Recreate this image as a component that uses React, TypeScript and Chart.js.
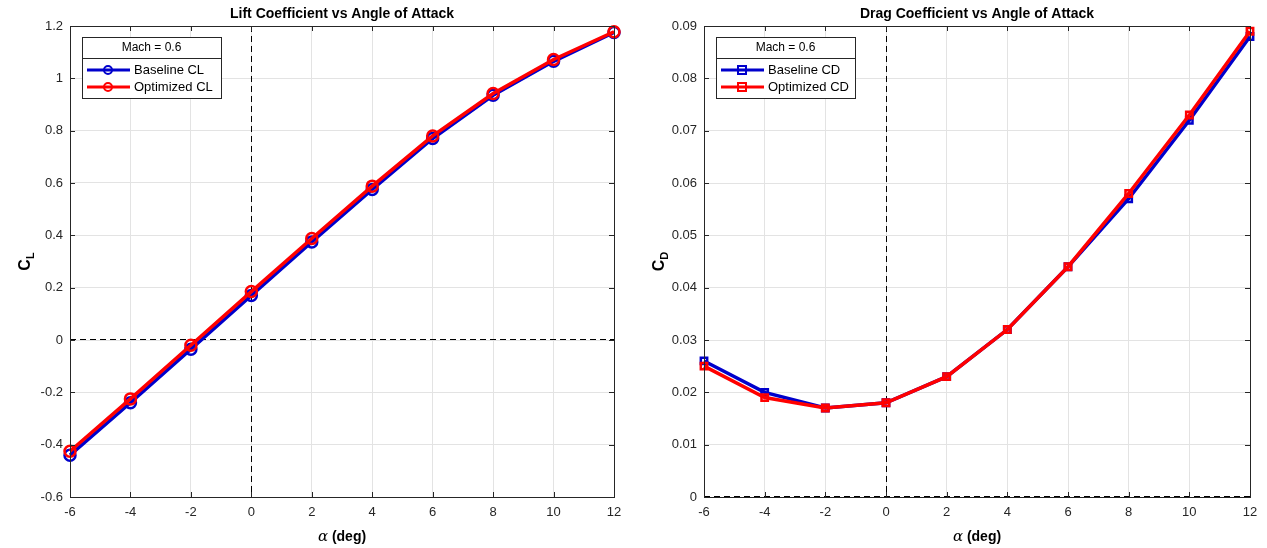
import React, { useEffect, useRef } from "react";
import { Chart, registerables } from "chart.js";
Chart.register(...registerables);

const alphaDeg = [-6, -4, -2, 0, 2, 4, 6, 8, 10, 12];
const clBaseline = [-0.44, -0.24, -0.035, 0.17, 0.375, 0.575, 0.77, 0.935, 1.065, 1.175];
const clOptimized = [-0.425, -0.225, -0.02, 0.185, 0.388, 0.588, 0.78, 0.942, 1.072, 1.178];
const cdBaseline = [0.026, 0.02, 0.017, 0.018, 0.023, 0.032, 0.044, 0.057, 0.072, 0.088];
const cdOptimized = [0.025, 0.019, 0.017, 0.018, 0.023, 0.032, 0.044, 0.058, 0.073, 0.089];

const legendTitle = "Mach = 0.6";
const BLUE = "#0000cc";
const RED = "#ff0000";
const AX = "#262626";
const SANS = "'Liberation Sans', Arial, sans-serif";

type PanelCfg = {
  title: string;
  yMain: string;
  ySub: string;
  yMin: number;
  yMax: number;
  yStep: number;
  yDigits: number;
  base: number[];
  opt: number[];
  baseLabel: string;
  optLabel: string;
  pointStyle: "circle" | "rect";
  rightPad: number;
};

function drawMarker(ctx: CanvasRenderingContext2D, style: string, x: number, y: number, r: number, color: string) {
  ctx.save();
  ctx.strokeStyle = color;
  ctx.lineWidth = 2;
  ctx.beginPath();
  if (style === "circle") ctx.arc(x, y, r, 0, Math.PI * 2);
  else ctx.rect(x - r, y - r, 2 * r, 2 * r);
  ctx.stroke();
  ctx.restore();
}

function makePlugin(cfg: PanelCfg) {
  return {
    id: "matlabDecor",
    beforeDatasetsDraw(chart: any) {
      const { ctx, chartArea: a, scales } = chart;
      const x0 = scales.x.getPixelForValue(0);
      const y0 = scales.y.getPixelForValue(0);
      ctx.save();
      ctx.strokeStyle = "#000";
      ctx.lineWidth = 1;
      ctx.setLineDash([6, 4]);
      ctx.beginPath();
      ctx.moveTo(Math.round(x0) + 0.5, a.top);
      ctx.lineTo(Math.round(x0) + 0.5, a.bottom);
      ctx.moveTo(a.left, Math.round(y0) - 0.5);
      ctx.lineTo(a.right, Math.round(y0) - 0.5);
      ctx.stroke();
      ctx.restore();
    },
    afterDraw(chart: any) {
      const { ctx, chartArea: a, scales } = chart;
      ctx.save();
      ctx.strokeStyle = AX;
      ctx.lineWidth = 1;
      ctx.setLineDash([]);
      ctx.strokeRect(Math.round(a.left) + 0.5, Math.round(a.top) + 0.5, Math.round(a.right - a.left), Math.round(a.bottom - a.top));
      const tl = 5;
      ctx.beginPath();
      scales.x.ticks.forEach((t: any) => {
        const px = Math.round(scales.x.getPixelForValue(t.value)) + 0.5;
        ctx.moveTo(px, a.bottom);
        ctx.lineTo(px, a.bottom - tl);
        ctx.moveTo(px, a.top);
        ctx.lineTo(px, a.top + tl);
      });
      scales.y.ticks.forEach((t: any) => {
        const py = Math.round(scales.y.getPixelForValue(t.value)) + 0.5;
        ctx.moveTo(a.left, py);
        ctx.lineTo(a.left + tl, py);
        ctx.moveTo(a.right, py);
        ctx.lineTo(a.right - tl, py);
      });
      ctx.stroke();

      // title
      ctx.fillStyle = "#000";
      ctx.font = `bold 14px ${SANS}`;
      ctx.textAlign = "center";
      ctx.textBaseline = "middle";
      ctx.fillText(cfg.title, (a.left + a.right) / 2, 14);

      // x-axis title
      const cx = (a.left + a.right) / 2;
      const yT = 537;
      ctx.font = `italic 15px 'DejaVu Serif', serif`;
      const wA = ctx.measureText("\u03b1").width;
      ctx.font = `bold 14px ${SANS}`;
      const wD = ctx.measureText(" (deg)").width;
      const start = cx - (wA + wD) / 2;
      ctx.textAlign = "left";
      ctx.font = `italic 15px 'DejaVu Serif', serif`;
      ctx.fillText("\u03b1", start, yT);
      ctx.font = `bold 14px ${SANS}`;
      ctx.fillText(" (deg)", start + wA, yT);

      // y-axis title with subscript
      ctx.save();
      ctx.translate(30, (a.top + a.bottom) / 2);
      ctx.rotate(-Math.PI / 2);
      ctx.font = `bold 16px ${SANS}`;
      const wC = ctx.measureText(cfg.yMain).width;
      ctx.font = `bold 11px ${SANS}`;
      const wS = ctx.measureText(cfg.ySub).width;
      const sx = -(wC + wS) / 2;
      ctx.textAlign = "left";
      ctx.textBaseline = "alphabetic";
      ctx.font = `bold 16px ${SANS}`;
      ctx.fillText(cfg.yMain, sx, 0);
      ctx.font = `bold 11px ${SANS}`;
      ctx.fillText(cfg.ySub, sx + wC, 4);
      ctx.restore();

      // legend
      const lx = a.left + 12;
      const ly = a.top + 11;
      const lw = 139;
      const lh = 61;
      ctx.fillStyle = "#fff";
      ctx.fillRect(lx, ly, lw, lh);
      ctx.strokeStyle = AX;
      ctx.lineWidth = 1;
      ctx.strokeRect(Math.round(lx) + 0.5, Math.round(ly) + 0.5, lw, lh);
      ctx.beginPath();
      ctx.moveTo(lx, Math.round(ly + 21) + 0.5);
      ctx.lineTo(lx + lw, Math.round(ly + 21) + 0.5);
      ctx.stroke();
      ctx.fillStyle = "#000";
      ctx.font = `12px ${SANS}`;
      ctx.textAlign = "center";
      ctx.textBaseline = "middle";
      ctx.fillText(legendTitle, lx + lw / 2, ly + 11);
      const entries = [
        { label: cfg.baseLabel, color: BLUE, y: ly + 33 },
        { label: cfg.optLabel, color: RED, y: ly + 50 },
      ];
      entries.forEach((e) => {
        ctx.strokeStyle = e.color;
        ctx.lineWidth = 3;
        ctx.beginPath();
        ctx.moveTo(lx + 5, e.y);
        ctx.lineTo(lx + 48, e.y);
        ctx.stroke();
        drawMarker(ctx, cfg.pointStyle, lx + 26, e.y, 4, e.color);
        ctx.fillStyle = "#000";
        ctx.font = `13px ${SANS}`;
        ctx.textAlign = "left";
        ctx.fillText(e.label, lx + 52, e.y);
      });
      ctx.restore();
    },
  };
}

function Panel({ cfg, left, width }: { cfg: PanelCfg; left: number; width: number }) {
  const ref = useRef<HTMLCanvasElement | null>(null);
  useEffect(() => {
    if (!ref.current) return;
    const mk = (vals: number[]) => alphaDeg.map((x, i) => ({ x, y: vals[i] }));
    const ds = (label: string, vals: number[], color: string, order: number) => ({
      label,
      data: mk(vals),
      order,
      borderColor: color,
      backgroundColor: "transparent",
      borderWidth: 3.5,
      pointStyle: cfg.pointStyle,
      pointRadius: cfg.pointStyle === "circle" ? 5.5 : 4.5,
      pointBorderWidth: 2.5,
      pointBorderColor: color,
      pointBackgroundColor: "transparent",
      clip: false,
    });
    const chart = new Chart(ref.current, {
      type: "line",
      data: {
        datasets: [
          ds(cfg.baseLabel, cfg.base, BLUE, 1),
          ds(cfg.optLabel, cfg.opt, RED, 0),
        ] as any,
      },
      options: {
        animation: false,
        responsive: false,
        maintainAspectRatio: false,
        layout: { padding: { top: 26, right: cfg.rightPad, left: 0, bottom: 0 } },
        plugins: { legend: { display: false }, title: { display: false }, tooltip: { enabled: false } },
        scales: {
          x: {
            type: "linear",
            min: -6,
            max: 12,
            ticks: {
              stepSize: 2,
              padding: 8,
              color: AX,
              font: { family: SANS, size: 13 },
              callback: (v: any) => String(v),
            },
            grid: { color: "#e3e3e3", drawTicks: false },
            border: { display: false },
            afterFit: (s: any) => {
              s.height = 51;
            },
          },
          y: {
            type: "linear",
            min: cfg.yMin,
            max: cfg.yMax,
            ticks: {
              stepSize: cfg.yStep,
              padding: 7,
              color: AX,
              font: { family: SANS, size: 13 },
              callback: (v: any) => String(Number(Number(v).toFixed(cfg.yDigits))),
            },
            grid: { color: "#e3e3e3", drawTicks: false },
            border: { display: false },
            afterFit: (s: any) => {
              s.width = 70;
            },
          },
        },
      } as any,
      plugins: [makePlugin(cfg) as any],
    });
    return () => chart.destroy();
  }, [cfg]);
  return (
    <canvas
      ref={ref}
      width={width}
      height={548}
      style={{ position: "absolute", left, top: 0, width, height: 548 }}
    />
  );
}

const liftCfg: PanelCfg = {
  title: "Lift Coefficient vs Angle of Attack",
  yMain: "C",
  ySub: "L",
  yMin: -0.6,
  yMax: 1.2,
  yStep: 0.2,
  yDigits: 2,
  base: clBaseline,
  opt: clOptimized,
  baseLabel: "Baseline CL",
  optLabel: "Optimized CL",
  pointStyle: "circle",
  rightPad: 20,
};

const dragCfg: PanelCfg = {
  title: "Drag Coefficient vs Angle of Attack",
  yMain: "C",
  ySub: "D",
  yMin: 0,
  yMax: 0.09,
  yStep: 0.01,
  yDigits: 3,
  base: cdBaseline,
  opt: cdOptimized,
  baseLabel: "Baseline CD",
  optLabel: "Optimized CD",
  pointStyle: "rect",
  rightPad: 17,
};

export default function App() {
  return (
    <div style={{ position: "fixed", left: 0, top: 0, width: 1267, height: 548, background: "#fff", overflow: "hidden" }}>
      <Panel cfg={liftCfg} left={0} width={634} />
      <Panel cfg={dragCfg} left={634} width={633} />
    </div>
  );
}
